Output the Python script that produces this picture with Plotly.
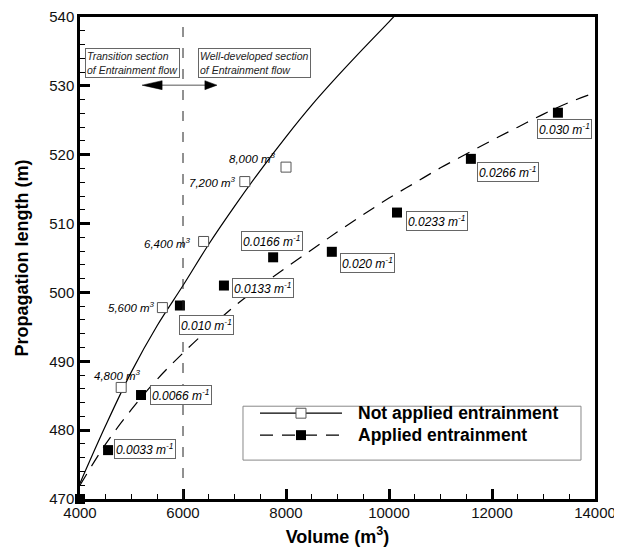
import plotly.graph_objects as go

# ---------------- data ----------------
# Not applied entrainment (open squares)
na_vol = [4800, 5600, 6400, 7200, 8000]
na_len = [486.2, 497.8, 507.4, 516.1, 518.2]
na_labels = ["4,800 m<sup>3</sup>", "5,600 m<sup>3</sup>", "6,400 m<sup>3</sup>",
             "7,200 m<sup>3</sup>", "8,000 m<sup>3</sup>"]

# Applied entrainment (filled squares)
ap_vol = [4000, 4545, 5185, 5940, 6795, 7750, 8890, 10155, 11590, 13280]
ap_len = [470.0, 477.1, 485.1, 498.1, 501.0, 505.1, 505.9, 511.6, 519.4, 526.1]
ap_labels = ["", "0.0033 m<sup>-1</sup>", "0.0066 m<sup>-1</sup>", "0.010 m<sup>-1</sup>",
             "0.0133 m<sup>-1</sup>", "0.0166 m<sup>-1</sup>", "0.020 m<sup>-1</sup>",
             "0.0233 m<sup>-1</sup>", "0.0266 m<sup>-1</sup>", "0.030 m<sup>-1</sup>"]

# trend curves
fit_na_x = [4000, 4500, 5000, 5500, 6000, 6500, 7000, 7500, 8000, 8500, 9000, 9500, 10000, 10100]
fit_na_y = [472.3, 480.7, 488.5, 495.2, 501.0, 507.0, 512.5, 517.7, 522.6, 527.2, 531.4, 535.4, 539.3, 540.1]
fit_ap_x = [4000, 4500, 5000, 5500, 6000, 6500, 7000, 7500, 8000, 8500, 9000, 9500, 10000,
            10500, 11000, 11500, 12000, 12500, 13000, 13500, 14000]
fit_ap_y = [472.0, 478.0, 483.0, 487.4, 491.2, 494.7, 498.0, 500.9, 503.6, 506.2, 508.8, 511.3, 513.7,
            515.9, 518.1, 520.1, 522.1, 524.0, 525.9, 527.6, 529.0]

x_ticks = [4000, 6000, 8000, 10000, 12000, 14000]
x_ticktext = ["4000", "6000", "8000", "10000", "12000", "14000"]
y_ticks = [470, 480, 490, 500, 510, 520, 530, 540]
y_ticktext = ["470", "480", "490", "500", "510", "520", "530", "540"]
section_x = 6000

FONT = "Arial, Liberation Sans, sans-serif"

fig = go.Figure()

fig.add_trace(go.Scatter(x=fit_na_x, y=fit_na_y, mode="lines", line=dict(color="black", width=1.2, shape="spline"),
                         showlegend=False, hoverinfo="skip"))
fig.add_trace(go.Scatter(x=fit_ap_x, y=fit_ap_y, mode="lines",
                         line=dict(color="black", width=1.2, dash="13px,9px", shape="spline"),
                         showlegend=False, hoverinfo="skip"))
fig.add_trace(go.Scatter(x=na_vol, y=na_len, mode="markers",
                         marker=dict(symbol="square", size=10, color="white", line=dict(color="#555", width=1)),
                         showlegend=False, cliponaxis=False))
fig.add_trace(go.Scatter(x=ap_vol, y=ap_len, mode="markers",
                         marker=dict(symbol="square", size=10, color="black", line=dict(color="black", width=0)),
                         showlegend=False, cliponaxis=False))

# vertical section divider
fig.add_shape(type="line", x0=section_x, x1=section_x, y0=0, y1=1, xref="x", yref="paper",
              line=dict(color="#222", width=1, dash="10px,11px"))

# labels for not-applied points: (xanchor, xshift, yshift)
na_pos = [("center", -4, 12), ("right", -5, 1), ("right", -11, -2), ("right", -7, 0), ("right", -8, 9)]
for x, y, t, (xa, xs, ys) in zip(na_vol, na_len, na_labels, na_pos):
    fig.add_annotation(x=x, y=y, text=t, showarrow=False, xanchor=xa, yanchor="middle",
                       xshift=xs, yshift=ys, font=dict(family=FONT, size=11.5, color="black", style="italic"))

ap_pos = [None, ("left", 6, 1, "middle"), ("left", 9, 0, "middle"), ("left", -1, -9, "top"),
          ("left", 8, -2, "middle"), ("center", -1, 6, "bottom"), ("left", 8, -11, "middle"),
          ("left", 9, -8, "middle"), ("left", 6, -13, "middle"), ("center", 7, -6, "top")]
for x, y, t, p in zip(ap_vol, ap_len, ap_labels, ap_pos):
    if p is None:
        continue
    xa, xs, ys, ya = p
    fig.add_annotation(x=x, y=y, text=t, showarrow=False, xanchor=xa, yanchor=ya,
                       xshift=xs, yshift=ys, bgcolor="white", bordercolor="#666", borderwidth=1, borderpad=1,
                       font=dict(family=FONT, size=12, color="black", style="italic"))

# section annotations
fig.add_annotation(x=section_x, y=533.3, text="Transition section<br>of Entrainment flow", showarrow=False,
                   xanchor="right", yanchor="middle", xshift=-3, align="left", bordercolor="#666",
                   borderwidth=1, borderpad=1, font=dict(family=FONT, size=10.5, color="#222", style="italic"))
fig.add_annotation(x=section_x, y=533.3, text="Well-developed section<br>of Entrainment flow", showarrow=False,
                   xanchor="left", yanchor="middle", xshift=15, align="left", bordercolor="#666",
                   borderwidth=1, borderpad=1, font=dict(family=FONT, size=10.5, color="#222", style="italic"))
# double arrow
fig.add_shape(type="line", x0=5590, x1=6430, y0=530.1, y1=530.1, line=dict(color="#555", width=1))
fig.add_shape(type="path", path="M 5205,530.1 L 5595,530.75 L 5595,529.45 Z", fillcolor="black",
              line=dict(color="black", width=0.5))
fig.add_shape(type="path", path="M 6660,530.1 L 6425,530.75 L 6425,529.45 Z", fillcolor="black",
              line=dict(color="black", width=0.5))

# custom legend (paper coordinates)
fig.add_shape(type="rect", xref="paper", yref="paper", x0=0.3165, x1=0.9728, y0=0.0807, y1=0.1925,
              line=dict(color="#888", width=1), fillcolor="white")
fig.add_shape(type="line", xref="paper", yref="paper", x0=0.3495, x1=0.5087, y0=0.178, y1=0.178,
              line=dict(color="black", width=1.2))
fig.add_shape(type="line", xref="paper", yref="paper", x0=0.3495, x1=0.5087, y0=0.1325, y1=0.1325,
              line=dict(color="black", width=1.2, dash="13px,9px"))
fig.add_shape(type="rect", xref="paper", yref="paper", x0=0.4194, x1=0.4388, y0=0.1677, y1=0.1883,
              line=dict(color="#555", width=1), fillcolor="white")
fig.add_shape(type="rect", xref="paper", yref="paper", x0=0.4194, x1=0.4388, y0=0.1222, y1=0.1428,
              line=dict(color="black", width=0), fillcolor="black")
fig.add_annotation(xref="paper", yref="paper", x=0.5359, y=0.178, text="<b>Not applied entrainment</b>",
                   showarrow=False, xanchor="left", yanchor="middle",
                   font=dict(family=FONT, size=17.5, color="black"))
fig.add_annotation(xref="paper", yref="paper", x=0.5359, y=0.1325, text="<b>Applied entrainment</b>",
                   showarrow=False, xanchor="left", yanchor="middle",
                   font=dict(family=FONT, size=17.5, color="black"))

# page body has an 8px default margin, so the figure is sized to fit the 622x550 window
fig.update_layout(
    width=614, height=542,
    margin=dict(l=72, r=27, t=9, b=51),
    paper_bgcolor="white", plot_bgcolor="white",
    font=dict(family=FONT, color="black"),
    showlegend=False,
)
fig.update_xaxes(range=[4000, 14000], tickvals=x_ticks, ticktext=x_ticktext, ticks="inside", ticklen=10,
                 tickwidth=2.5, automargin=False, ticklabelstandoff=-2, ticklabeloverflow="allow",
                 tickcolor="black", showline=True, linewidth=2.5, linecolor="black", mirror=True,
                 showgrid=False, zeroline=False, tickfont=dict(size=15, color="#111"),
                 minor=dict(dtick=500, ticks="inside", ticklen=5, tickwidth=1, tickcolor="black", showgrid=False),
                 title=dict(text="<b>Volume (m<sup>3</sup>)</b>", font=dict(size=18, color="black"), standoff=11))
fig.update_yaxes(range=[470, 540], tickvals=y_ticks, ticktext=y_ticktext, ticks="inside", ticklen=10,
                 tickwidth=2.5, automargin=False, ticklabeloverflow="allow",
                 tickcolor="black", showline=True, linewidth=2.5, linecolor="black", mirror=True,
                 showgrid=False, zeroline=False, tickfont=dict(size=15, color="#111"),
                 minor=dict(dtick=2, ticks="inside", ticklen=5, tickwidth=1, tickcolor="black", showgrid=False),
                 title=dict(text="<b>Propagation length (m)</b>", font=dict(size=18, color="black"), standoff=16))

fig.write_html("out.html")
